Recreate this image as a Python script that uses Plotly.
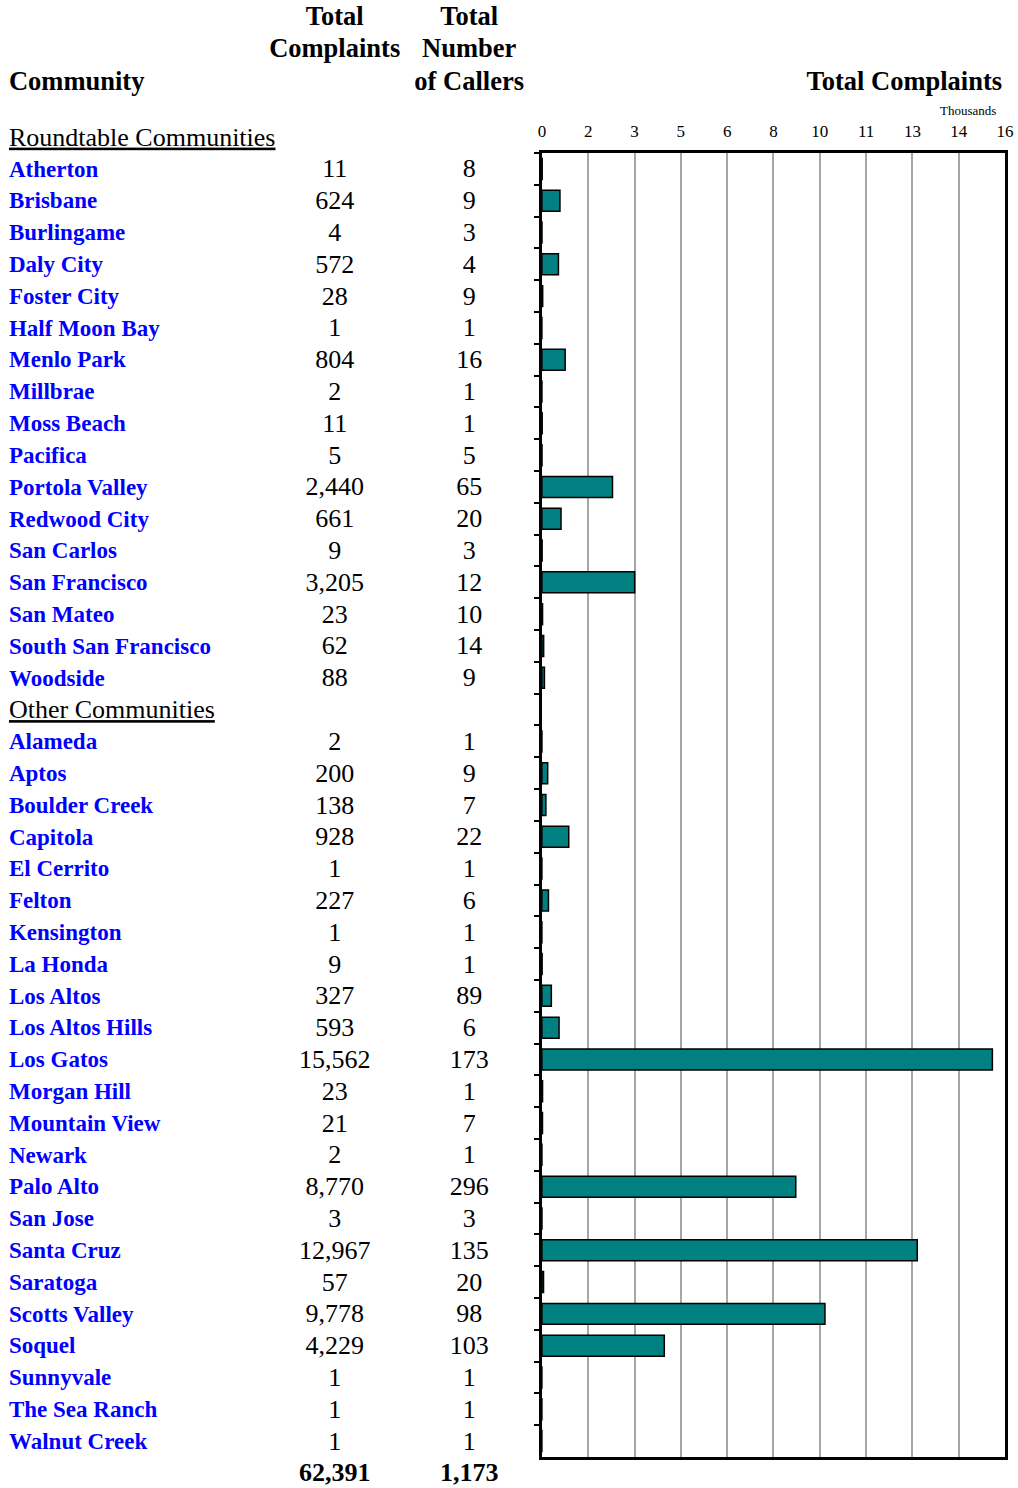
import plotly.graph_objects as go

# ---------------- data ----------------
roundtable_names = ["Atherton", "Brisbane", "Burlingame", "Daly City", "Foster City",
                    "Half Moon Bay", "Menlo Park", "Millbrae", "Moss Beach", "Pacifica",
                    "Portola Valley", "Redwood City", "San Carlos", "San Francisco",
                    "San Mateo", "South San Francisco", "Woodside"]
roundtable_complaints = [11, 624, 4, 572, 28, 1, 804, 2, 11, 5, 2440, 661, 9, 3205, 23, 62, 88]
roundtable_callers = [8, 9, 3, 4, 9, 1, 16, 1, 1, 5, 65, 20, 3, 12, 10, 14, 9]

other_names = ["Alameda", "Aptos", "Boulder Creek", "Capitola", "El Cerrito", "Felton",
               "Kensington", "La Honda", "Los Altos", "Los Altos Hills", "Los Gatos",
               "Morgan Hill", "Mountain View", "Newark", "Palo Alto", "San Jose",
               "Santa Cruz", "Saratoga", "Scotts Valley", "Soquel", "Sunnyvale",
               "The Sea Ranch", "Walnut Creek"]
other_complaints = [2, 200, 138, 928, 1, 227, 1, 9, 327, 593, 15562, 23, 21, 2, 8770, 3,
                    12967, 57, 9778, 4229, 1, 1, 1]
other_callers = [1, 9, 7, 22, 1, 6, 1, 1, 89, 6, 173, 1, 7, 1, 296, 3, 135, 20, 98, 103, 1, 1, 1]

group_headers = ["Roundtable Communities", "Other Communities"]
total_complaints = "62,391"
total_callers = "1,173"

tick_values = [0, 1600, 3200, 4800, 6400, 8000, 9600, 11200, 12800, 14400, 16000]
tick_labels = ["0", "2", "3", "5", "6", "8", "10", "11", "13", "14", "16"]
x_max = 16000

# ---------------- layout constants ----------------
W, H = 1018, 1488
SERIF = "Liberation Serif, Times New Roman, serif"
BLUE = "#0000FF"
TEAL = "#008080"
NAME_SIZE, NUM_SIZE, HEAD_SIZE, TICK_SIZE = 23, 26, 26.5, 17
TEXT_DY = 2  # small vertical nudge for text baselines

PLOT_L, PLOT_R, PLOT_T, PLOT_B = 540, 1005, 153, 1457
NAME_X, COMP_X, CALL_X = 5, 332, 467

rows = roundtable_names + [group_headers[1]] + other_names
bar_names = roundtable_names + other_names
bar_values = roundtable_complaints + other_complaints
n_rows = len(rows)
pitch = (PLOT_B - PLOT_T) / n_rows


def row_of(px):
    """pixel (from top) -> row units of the text axis"""
    return (px + TEXT_DY - PLOT_T) / pitch - 0.5


def py(px):
    return 1 - px / H


y2_top = (0 - PLOT_T) / pitch - 0.5
y2_bot = (H - PLOT_T) / pitch - 0.5
row_shift = TEXT_DY / pitch

fig = go.Figure()
fig.add_trace(go.Bar(
    x=bar_values, y=bar_names, orientation="h",
    marker=dict(color=TEAL, line=dict(color="black", width=1.5)),
    xaxis="x", yaxis="y", hoverinfo="x+y", showlegend=False,
))

# ----- build text columns -----
blue_txt, blue_rows = [], []
hdr_txt, hdr_rows = [], []
comp_txt, call_txt, num_rows = [], [], []

hdr_txt.append("<u>%s</u>" % group_headers[0]); hdr_rows.append(-1 + row_shift)
r = 0
for n, c, k in zip(roundtable_names, roundtable_complaints, roundtable_callers):
    blue_txt.append("<b>%s</b>" % n); blue_rows.append(r + row_shift)
    comp_txt.append(f"{c:,}"); call_txt.append(f"{k:,}"); num_rows.append(r + row_shift)
    r += 1
hdr_txt.append("<u>%s</u>" % group_headers[1]); hdr_rows.append(r + row_shift)
r += 1
for n, c, k in zip(other_names, other_complaints, other_callers):
    blue_txt.append("<b>%s</b>" % n); blue_rows.append(r + row_shift)
    comp_txt.append(f"{c:,}"); call_txt.append(f"{k:,}"); num_rows.append(r + row_shift)
    r += 1
comp_txt.append("<b>%s</b>" % total_complaints); call_txt.append("<b>%s</b>" % total_callers)
num_rows.append(r + row_shift)

common = dict(mode="text", xaxis="x2", yaxis="y2", hoverinfo="skip", showlegend=False,
              cliponaxis=False)
fig.add_trace(go.Scatter(x=[NAME_X] * len(blue_rows), y=blue_rows, text=blue_txt,
                         textposition="middle right",
                         textfont=dict(family=SERIF, size=NAME_SIZE, color=BLUE), **common))
fig.add_trace(go.Scatter(x=[NAME_X] * len(hdr_rows), y=hdr_rows, text=hdr_txt,
                         textposition="middle right",
                         textfont=dict(family=SERIF, size=NUM_SIZE, color="black"), **common))
fig.add_trace(go.Scatter(x=[COMP_X] * len(num_rows), y=num_rows, text=comp_txt,
                         textposition="middle center",
                         textfont=dict(family=SERIF, size=NUM_SIZE, color="black"), **common))
fig.add_trace(go.Scatter(x=[CALL_X] * len(num_rows), y=num_rows, text=call_txt,
                         textposition="middle center",
                         textfont=dict(family=SERIF, size=NUM_SIZE, color="black"), **common))

# column headings, one line each
head_font = dict(family=SERIF, size=HEAD_SIZE, color="black")
fig.add_trace(go.Scatter(
    x=[COMP_X, COMP_X, CALL_X, CALL_X, CALL_X],
    y=[row_of(16), row_of(48), row_of(16), row_of(48), row_of(81)],
    text=["<b>Total</b>", "<b>Complaints</b>", "<b>Total</b>", "<b>Number</b>", "<b>of Callers</b>"],
    textposition="middle center", textfont=head_font, **common))
fig.add_trace(go.Scatter(x=[NAME_X], y=[row_of(81)], text=["<b>Community</b>"],
                         textposition="middle right", textfont=head_font, **common))
fig.add_trace(go.Scatter(x=[1002], y=[row_of(81)], text=["<b>Total Complaints</b>"],
                         textposition="middle left", textfont=head_font, **common))
fig.add_trace(go.Scatter(x=[968], y=[row_of(110)], text=["Thousands"],
                         textposition="middle center",
                         textfont=dict(family=SERIF, size=13, color="black"), **common))

# the last tick label sits at the page edge; draw it as text at the axis-end position
axis_ticktext = tick_labels[:-1] + [""]
end_x = PLOT_L + (tick_values[-1] / x_max) * (PLOT_R - PLOT_L)
fig.add_trace(go.Scatter(x=[end_x], y=[row_of(131)], text=[tick_labels[-1]],
                         textposition="middle center",
                         textfont=dict(family=SERIF, size=TICK_SIZE, color="black"), **common))

fig.update_layout(
    width=W, height=H, margin=dict(l=0, r=0, t=0, b=0),
    paper_bgcolor="white", plot_bgcolor="rgba(0,0,0,0)",
    bargap=0.34, showlegend=False,
    xaxis=dict(
        domain=[PLOT_L / W, PLOT_R / W], range=[0, x_max], side="top",
        tickmode="array", tickvals=tick_values, ticktext=axis_ticktext,
        tickfont=dict(family=SERIF, size=TICK_SIZE, color="black"), ticklabelstandoff=6,
        showgrid=True, gridcolor="#a6a6a6", gridwidth=1.5,
        showline=True, linecolor="black", linewidth=3, mirror=True,
        ticks="", zeroline=False, fixedrange=True,
    ),
    yaxis=dict(
        domain=[py(PLOT_B), py(PLOT_T)], type="category",
        categoryorder="array", categoryarray=rows,
        range=[n_rows - 0.5, -0.5],
        showticklabels=False, showgrid=False,
        ticks="outside", tickson="boundaries", ticklen=5, tickwidth=1.5, tickcolor="black",
        showline=True, linecolor="black", linewidth=3, mirror=True, fixedrange=True,
    ),
    xaxis2=dict(domain=[0, 1], range=[0, W], visible=False, anchor="y2", fixedrange=True),
    yaxis2=dict(domain=[0, 1], range=[y2_bot, y2_top], visible=False, anchor="x2", fixedrange=True),
)

fig.write_html("out.html", config={"displayModeBar": False},
               post_script="document.body.style.margin='0';")
